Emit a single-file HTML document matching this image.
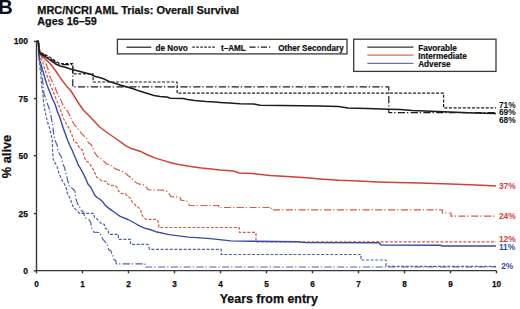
<!DOCTYPE html>
<html><head><meta charset="utf-8"><style>
html,body{margin:0;padding:0;background:#fff;width:520px;height:309px;overflow:hidden}
svg{display:block}
</style></head><body>
<svg width="520" height="309" viewBox="0 0 520 309">
<rect width="520" height="309" fill="#fff"/>
<g font-family='"Liberation Sans", sans-serif' font-weight="bold" fill="#111" stroke="#111" stroke-width="0.25">
<text x="-1.7" y="14.4" font-size="20" stroke="none">B</text>
<text x="37.3" y="13.6" font-size="10.95">MRC/NCRI AML Trials: Overall Survival</text>
<text x="37.3" y="24.6" font-size="10.8">Ages 16–59</text>
<text x="219.7" y="303.2" font-size="12.45">Years from entry</text>
<text transform="translate(10.7,156.5) rotate(-90)" text-anchor="middle" font-size="12.8">% alive</text>
<text x="28" y="44.3" font-size="8.5" text-anchor="end">100</text>
<text x="28" y="101.5" font-size="8.5" text-anchor="end">75</text>
<text x="28" y="158.6" font-size="8.5" text-anchor="end">50</text>
<text x="28" y="216.5" font-size="8.5" text-anchor="end">25</text>
<text x="28" y="273.7" font-size="8.5" text-anchor="end">0</text>
<text x="36.5" y="286.6" font-size="8.2" text-anchor="middle">0</text>
<text x="82.5" y="286.6" font-size="8.2" text-anchor="middle">1</text>
<text x="128.5" y="286.6" font-size="8.2" text-anchor="middle">2</text>
<text x="174.5" y="286.6" font-size="8.2" text-anchor="middle">3</text>
<text x="220.5" y="286.6" font-size="8.2" text-anchor="middle">4</text>
<text x="266.5" y="286.6" font-size="8.2" text-anchor="middle">5</text>
<text x="312.5" y="286.6" font-size="8.2" text-anchor="middle">6</text>
<text x="358.5" y="286.6" font-size="8.2" text-anchor="middle">7</text>
<text x="404.5" y="286.6" font-size="8.2" text-anchor="middle">8</text>
<text x="450.5" y="286.6" font-size="8.2" text-anchor="middle">9</text>
<text x="496.5" y="286.6" font-size="8.2" text-anchor="middle">10</text>
</g>
<path d="M36.5,41.4 H38.3 L38.7,52 L40,62 L41.5,72 L42.8,82 L43.9,92.8 L45.5,98.5 L47.5,104 L49.2,108.5 L50.6,114 L51.3,118 L52.6,123.8 L53.6,133.5 L55,140.5 L57.3,145.5 L58.2,151.7 L61.6,157.5 L62.6,163.3 L64.5,167.5 L65.6,171.8 L67.5,179.6 L69.5,187.3 L72.4,188.3 L75,191.2 L75.6,197.8 L77.5,203.6 L79.5,206.5 L80.4,209.4 L83.4,212.3 L84.3,215.2 L86.3,219 L88.9,219.6 L90.8,222.5 L91.3,226.4 L92.7,230.2 L93.7,232.2 L99.9,232.5 L100.9,235.8 L102.9,239.2 L105.8,242.6 L107.7,245.5 L108.5,249.6 L110.9,250.8 L111.9,253.7 L113.3,256.7 L113.8,259.6 L115.8,260.5 L116.3,263.9 H145 V267 H496" fill="none" stroke="#5060ac" stroke-width="1.2" stroke-dasharray="7.2 1.9 1.3 2.4" stroke-linejoin="round"/>
<path d="M36.5,41.4 H38.3 L38.8,55 L39.5,62 L39.9,67 L40.9,75.7 L41.7,85.5 L42.8,93 L43.4,100.7 L44.3,107 L45.3,113 L46.5,118 L47.8,122.8 L49.7,128.6 L51.7,137.4 L52.4,142 L52.5,149.7 L53.3,159.4 L55.8,164.3 L57.5,167.5 L58.8,172.8 L61.7,179.6 L64.6,184.4 L66.6,189.3 L67.2,193 L68.8,195.8 L70.7,199.7 L71.7,203.6 L73.7,207.5 L76.6,210.4 L79.5,213.3 H93.7 L94.5,217.6 L96.6,218.6 L99.5,221.5 L101.5,223.9 L104.4,224.4 L105.4,228.3 L108,230 L108.7,233.8 L109.5,234.3 H118.4 V239.3 H130.5 V244.4 H148 L149.5,249.4 H221.25 V254.5 H361 V260 H386 V266.3 H496" fill="none" stroke="#5060ac" stroke-width="1.2" stroke-dasharray="3 1.6" stroke-linejoin="round"/>
<path d="M36.5,41.4 H38.3 L39.3,51 L40.9,55.6 L43.8,60.4 L46.5,65 L48.3,70 L49.6,75.7 L51.5,80 L54,85 L57,92.5 L60,98.2 L62.8,104.5 L66,110 L67.8,111.5 L70.7,117.8 L73.6,123.6 L77.5,128.4 L81.4,133.3 L84.5,136.5 L86.5,137.9 L88.4,142.8 L91.4,144.7 L93.3,149.6 L95.2,153.4 L97.5,156.5 L99.6,157.9 L102.5,159.9 L106.4,163.7 L109.3,164.7 L113.2,166.7 L115,168.6 L120.5,170.8 L124.4,172.3 L128.3,175.7 L132.2,178.6 L134,181.3 L138.6,183.9 L144.4,184.9 L148.3,189.7 L162.4,190.2 L167.1,191.4 L169.7,194.5 L170.7,196.6 L180,197.1 L181,200.2 L187.3,201.2 L188.8,204.3 L189.5,205.5 H218.75 V207.5 H271.25 V209.8 H442.3 V213 H451 V216.2 H496" fill="none" stroke="#d65a48" stroke-width="1.2" stroke-dasharray="7.2 1.9 1.3 2.4" stroke-linejoin="round"/>
<path d="M36.5,41.4 H38.3 L39,52 L39.9,57.5 L42.8,62.4 L44.7,68.9 L47.7,77.7 L50.6,85.4 L53.5,92.5 L56.5,100 L59.4,107 L61.2,112 L63.5,118.5 L66.5,124 L69.7,129.4 L71.7,134.3 L73.3,138.5 L73.9,141.8 L76.8,142.8 L78.7,146.7 L82.6,150.5 L83.6,154.4 L84.6,158.3 L86.5,161.2 L88.9,162.8 L90.8,165.7 L92.8,168.6 L94.7,172.5 L96.7,177.3 L99.6,179.3 L102.5,181.2 L106.4,181.4 L108,184.2 L110.8,185.4 L115.7,185.9 L117.6,188.3 L118.6,191.2 L121.5,193.6 L125.2,193.6 L127.9,196.5 L130.8,198.4 L131.8,201.4 L134.7,204.3 L136.7,206.2 L138.9,207.8 L140.8,210.7 L141.8,214.6 L143.7,217.5 L145.7,219.4 H157 L158.3,222 L158.8,225.2 V227.5 H239.4 V232.4 H256 V241.8 H496" fill="none" stroke="#d65a48" stroke-width="1.2" stroke-dasharray="3 1.6" stroke-linejoin="round"/>
<path d="M36.5,41.4 H38.3 L39.2,51 L40.5,53 L45,55.3 L50,58.4 L55,62 L60,64.6 H72.8 V86.8 H388.8 V112.6 H496" fill="none" stroke="#1c1c1c" stroke-width="1.2" stroke-dasharray="7.2 1.9 1.3 2.4" stroke-linejoin="round"/>
<path d="M36.5,41.4 H38.3 L39.2,51 L40.5,52.5 L45,54.5 L50,57.3 L55,60.8 L59.7,63.6 H72.8 V73.8 H93.1 V82 H177.1 V93.2 H443.6 V107.9 H496" fill="none" stroke="#1c1c1c" stroke-width="1.2" stroke-dasharray="3 1.6" stroke-linejoin="round"/>
<path d="M36.5,41.4 H38.3 L38.6,52 L39.5,60 L41.5,66 L44,75 L47,85 L49.8,92 L52.5,99 L55.2,104.5 L57.5,112 L59.7,117 L62.5,126 L65.2,133.5 L67.5,140 L70,145.7 L72.3,150.5 L73.9,154.4 L76.2,159.7 L77.8,164.1 L81,169.4 L83.5,174 L85.9,179.1 L87.9,184 L90.7,187.2 L94.8,195.3 L97,197.5 L99.6,199 L102.8,201.8 L105.2,205.3 L108.3,207.9 L112.5,210.8 L116,213.5 L120.2,216.4 L128,219.5 L135.4,223.5 L139.9,226.2 L144.7,228.2 L150,229.5 L155.8,231.7 L169.2,234.6 L188.5,237.1 L207.7,238.4 L217.3,239.4 L230.8,240.9 L250,241.2 L297,241.8 L305,242.6 L379,242.7 L381,245 L440,245.2 L442,246 L496,246" fill="none" stroke="#3b4b9e" stroke-width="1.4" stroke-linejoin="round"/>
<path d="M36.5,41.4 H38.3 L39.5,50 L41.8,55.6 L45.7,59.4 L50.6,64.3 L55.4,70.5 L60.3,77.7 L66,85.4 L71,91 L79.1,104 L83.3,110 L90,116.8 L99.7,127 L109.1,134 L114.3,137.5 L125.6,145.6 L132,148.8 L140,151.2 L147.7,155 L155.4,158.1 L163.1,160.4 L170.8,162.7 L178.5,164.5 L186.2,165.8 L193.8,167 L201.5,168.1 L209.2,168.8 L220,170 L233.5,171 L239.2,173 L252.7,173.5 L270,175.5 L287.3,176.4 L306.5,177.8 L320,179 L339.2,180.3 L358.5,181 L377.7,182 L396.9,182.6 L420,183 L450.8,184 L481.5,185.2 L496,186" fill="none" stroke="#d2403a" stroke-width="1.5" stroke-linejoin="round"/>
<path d="M36.5,41.4 H38.3 L39.2,50 L39.9,53.6 L45.7,56.8 L50.6,60.3 L55.6,64 L61,66.3 L66,67.6 L69.4,68.8 L80,71.4 L89.7,73.9 L94.6,76.2 L99.4,77.6 L104.3,79.1 L109.1,81.5 L114,83 L120,85.1 L129.7,87.7 L134.6,89.2 L139.4,91.1 L144.3,92.6 L149.1,94 L154,95.5 L160,96.6 L166.9,97.1 L170.4,98.2 L183.1,98.6 L187.7,99.5 L194.6,100.5 L206.1,101.6 L215.4,102.1 L220,102.4 L229.2,102.9 L240,103.7 L253.8,104 L260,105.2 L281.5,105.5 L300,105.8 L319.2,106.1 L338.5,106.5 L348,108 L367.3,108.6 L388.5,109.2 L400,109.5 L412.4,110.6 L449.8,111.9 L474.7,112.9 L496,113.6" fill="none" stroke="#1c1c1c" stroke-width="1.55" stroke-linejoin="round"/>
<g stroke="#383838" stroke-width="1.4" fill="none">
<path d="M36.5,41.4 V270.6 H496.5"/>
<path d="M33.8,41.4 H36.5"/>
<path d="M33.8,98.6 H36.5"/>
<path d="M33.8,155.7 H36.5"/>
<path d="M33.8,213.6 H36.5"/>
<path d="M33.8,270.8 H36.5"/>
<path d="M36.5,270.6 V273.3"/>
<path d="M82.5,270.6 V273.3"/>
<path d="M128.5,270.6 V273.3"/>
<path d="M174.5,270.6 V273.3"/>
<path d="M220.5,270.6 V273.3"/>
<path d="M266.5,270.6 V273.3"/>
<path d="M312.5,270.6 V273.3"/>
<path d="M358.5,270.6 V273.3"/>
<path d="M404.5,270.6 V273.3"/>
<path d="M450.5,270.6 V273.3"/>
<path d="M496.5,270.6 V273.3"/>
</g>
<rect x="117.4" y="39.3" width="229.6" height="14.6" fill="#fff" stroke="#383838" stroke-width="1.3"/>
<path d="M126.4,47.2 H151.3" stroke="#1c1c1c" stroke-width="1.2"/>
<path d="M192.3,47.2 H215.7" stroke="#1c1c1c" stroke-width="1.2" stroke-dasharray="2.5 1.5"/>
<path d="M249.4,47.2 H272" stroke="#1c1c1c" stroke-width="1.2" stroke-dasharray="6.2 2 1.2 2"/>
<g font-family='"Liberation Sans", sans-serif' font-weight="bold" fill="#111" stroke="#111" stroke-width="0.2" font-size="8.15">
<text x="155.6" y="50.9">de Novo</text>
<text x="221" y="50.9">t–AML</text>
<text x="278.2" y="50.9">Other Secondary</text>
</g>
<rect x="353.7" y="39.2" width="142.3" height="32.2" fill="#fff" stroke="#383838" stroke-width="1.3"/>
<path d="M367.3,47.1 H413.5" stroke="#333" stroke-width="1.15"/>
<path d="M367.3,55.1 H413.5" stroke="#e06a50" stroke-width="1.15"/>
<path d="M367.3,63.3 H413.5" stroke="#6570b5" stroke-width="1.15"/>
<g font-family='"Liberation Sans", sans-serif' font-weight="bold" fill="#111" stroke="#111" stroke-width="0.2" font-size="8.2">
<text x="418.2" y="50.9">Favorable</text>
<text x="418.2" y="58.8">Intermediate</text>
<text x="418.2" y="66.8">Adverse</text>
</g>
<g font-family='"Liberation Sans", sans-serif' font-weight="bold" font-size="8.4">
<text x="498.9" y="107.9" fill="#111">71%</text>
<text x="498.9" y="115.3" fill="#111">69%</text>
<text x="498.9" y="122.6" fill="#111">68%</text>
<text x="498.9" y="188.7" fill="#d2403a">37%</text>
<text x="498.9" y="219.4" fill="#d2403a">24%</text>
<text x="498.9" y="242.3" fill="#d2403a">12%</text>
<text x="498.9" y="249.8" fill="#3b4b9e">11%</text>
<text x="501.2" y="268.5" fill="#3b4b9e">2%</text>
</g>
</svg>
</body></html>
